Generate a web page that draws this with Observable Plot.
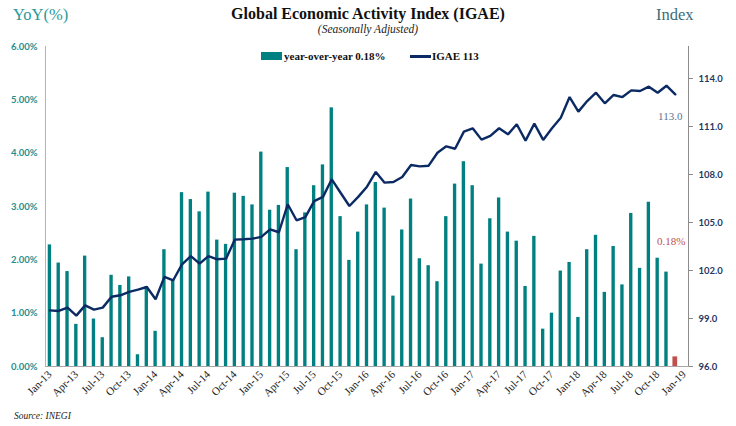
<!DOCTYPE html>
<html><head><meta charset="utf-8">
<script src="https://cdn.jsdelivr.net/npm/d3@7"></script>
<script src="https://cdn.jsdelivr.net/npm/@observablehq/plot@0.6"></script>
<style>
body{margin:0;background:#fff;}
#wrap{position:relative;width:736px;height:426px;font-family:"Liberation Serif",serif;overflow:hidden;}
.abs{position:absolute;white-space:nowrap;line-height:1;}
#wrap svg{position:absolute;left:0;top:0;}
</style></head><body>
<div id="wrap">
  <div class="abs" style="left:13px;top:7px;font-size:16.5px;color:#2a9a9a;">YoY(%)</div>
  <div class="abs" style="left:0;width:736px;top:6px;text-align:center;font-size:16px;font-weight:bold;color:#111;">Global Economic Activity Index (IGAE)</div>
  <div class="abs" style="left:0;width:736px;top:24px;text-align:center;font-size:11.5px;font-style:italic;color:#222;">(Seasonally Adjusted)</div>
  <div class="abs" style="left:656px;top:7px;font-size:16.5px;color:#3b6d78;">Index</div>
  <div class="abs" style="left:261px;top:52px;width:21px;height:8px;background:#008080;"></div>
  <div class="abs" style="left:284px;top:51px;font-size:11px;font-weight:bold;color:#111;">year-over-year 0.18%</div>
  <div class="abs" style="left:410px;top:55px;width:21px;height:2.5px;background:#0b2a63;"></div>
  <div class="abs" style="left:432px;top:51px;font-size:11px;font-weight:bold;color:#111;">IGAE 113</div>
  <div class="abs" style="left:14px;top:412px;font-size:9.5px;font-style:italic;color:#222;">Source: INEGI</div>
</div>
<script>
const months = ["Jan-13","Feb-13","Mar-13","Apr-13","May-13","Jun-13","Jul-13","Aug-13","Sep-13","Oct-13","Nov-13","Dec-13",
"Jan-14","Feb-14","Mar-14","Apr-14","May-14","Jun-14","Jul-14","Aug-14","Sep-14","Oct-14","Nov-14","Dec-14",
"Jan-15","Feb-15","Mar-15","Apr-15","May-15","Jun-15","Jul-15","Aug-15","Sep-15","Oct-15","Nov-15","Dec-15",
"Jan-16","Feb-16","Mar-16","Apr-16","May-16","Jun-16","Jul-16","Aug-16","Sep-16","Oct-16","Nov-16","Dec-16",
"Jan-17","Feb-17","Mar-17","Apr-17","May-17","Jun-17","Jul-17","Aug-17","Sep-17","Oct-17","Nov-17","Dec-17",
"Jan-18","Feb-18","Mar-18","Apr-18","May-18","Jun-18","Jul-18","Aug-18","Sep-18","Oct-18","Nov-18","Dec-18"];
const extraCategory = ["Jan-19"];
const yoy = [2.28,1.94,1.78,0.79,2.07,0.89,0.54,1.71,1.52,1.68,0.22,1.50,
0.66,2.19,1.62,3.26,3.13,2.90,3.27,2.37,2.29,3.25,3.19,3.03,
4.02,2.93,3.02,3.73,2.19,2.88,3.39,3.78,4.85,2.81,1.99,2.52,
3.03,3.45,2.97,1.32,2.56,3.14,2.02,1.89,1.59,2.81,3.42,3.84,
3.39,1.92,2.77,3.16,2.52,2.35,1.50,2.44,0.70,1.00,1.79,1.95,
0.92,2.19,2.46,1.39,2.25,1.53,2.87,1.84,3.08,2.03,1.77,0.18];
const igae = [99.51,99.47,99.68,99.18,99.82,99.55,99.68,100.36,100.45,100.66,100.80,100.97,
100.20,101.60,101.39,102.39,102.90,102.43,102.90,102.70,102.74,103.93,103.95,103.99,
104.10,104.57,104.39,106.14,105.14,105.34,106.34,106.60,107.70,106.86,106.03,106.60,
107.24,108.16,107.49,107.53,107.84,108.59,108.51,108.55,109.36,109.76,109.61,110.68,
110.89,110.18,110.41,110.89,110.51,111.14,110.12,111.18,110.16,110.89,111.55,112.84,
111.93,112.59,113.11,112.45,112.97,112.84,113.26,113.22,113.49,113.11,113.55,113.01];
const xTicks = ["Jan-13","Apr-13","Jul-13","Oct-13","Jan-14","Apr-14","Jul-14","Oct-14","Jan-15","Apr-15","Jul-15","Oct-15",
"Jan-16","Apr-16","Jul-16","Oct-16","Jan-17","Apr-17","Jul-17","Oct-17","Jan-18","Apr-18","Jul-18","Oct-18","Jan-19"];
const leftTicks = [0,1,2,3,4,5,6];
const rightTicks = [96,99,102,105,108,111,114];
const rightDomain = [96,116];
const leftDomain = [0,6];

const toLeft = v => (v - rightDomain[0]) / (rightDomain[1]-rightDomain[0]) * (leftDomain[1]-leftDomain[0]) + leftDomain[0];
const fromLeft = y => (y - leftDomain[0]) / (leftDomain[1]-leftDomain[0]) * (rightDomain[1]-rightDomain[0]) + rightDomain[0];

const rows = months.map((m,i)=>({m, yoy:yoy[i], igae:igae[i], last:i===months.length-1}));
const lastRow = [rows[rows.length-1]];
const mainRows = rows.slice(0, -1);

const chart = Plot.plot({
  width:736, height:426,
  marginTop:46, marginBottom:60, marginLeft:45, marginRight:48,
  style:{fontFamily:"'Liberation Serif', serif", background:"transparent", overflow:"visible"},
  x:{type:"band", domain:[...months, ...extraCategory], paddingInner:0.62, paddingOuter:0.31, align:0.5},
  y:{domain:leftDomain},
  marks:[
    Plot.barY(mainRows,{x:"m", y:"yoy", fill:"#008080"}),
    Plot.barY(lastRow,{x:"m", y:"yoy", fill:"#c0504d", insetLeft:-0.7, insetRight:-0.7}),
    Plot.line(rows,{x:"m", y:d=>toLeft(d.igae), stroke:"#0b2a63", strokeWidth:2.4, strokeLinejoin:"miter"}),
    Plot.text(lastRow,{x:"m", y:d=>toLeft(d.igae), text:d=>d.igae.toFixed(1), dx:-5, dy:22, fill:"#5b7290", fontSize:11, fontFamily:"'Liberation Serif', serif"}),
    Plot.text(lastRow,{x:"m", y:"yoy", text:d=>d.yoy.toFixed(2)+"%", dx:-4, dy:-115, fill:"#c0504d", fontSize:11, fontFamily:"'Liberation Serif', serif"}),
    Plot.frame({anchor:"left", stroke:"#b4b4b4"}),
    Plot.frame({anchor:"right", stroke:"#8c8c8c"}),
    Plot.frame({anchor:"bottom", stroke:"#a8a8a8"}),
    Plot.axisX({ticks:xTicks, tickRotate:-45, tickSize:0, tickPadding:6, fontSize:11, fill:"#222", label:null}),
    Plot.axisY({anchor:"left", ticks:leftTicks, tickFormat:d=>d.toFixed(2)+"%", tickSize:0, tickPadding:8, fontSize:9.5, fontWeight:"bold", fill:"#1f8f8f", fontFamily:"Lato, sans-serif", label:null}),
    Plot.axisY({anchor:"right", ticks:rightTicks.map(toLeft), tickFormat:d=>fromLeft(d).toFixed(1), tickSize:4, tickPadding:6, fontSize:9.5, fontWeight:"bold", fill:"#1f3864", stroke:"#8c8c8c", fontFamily:"Lato, sans-serif", label:null})
  ]
});
document.getElementById("wrap").prepend(chart);
</script>
</body></html>
